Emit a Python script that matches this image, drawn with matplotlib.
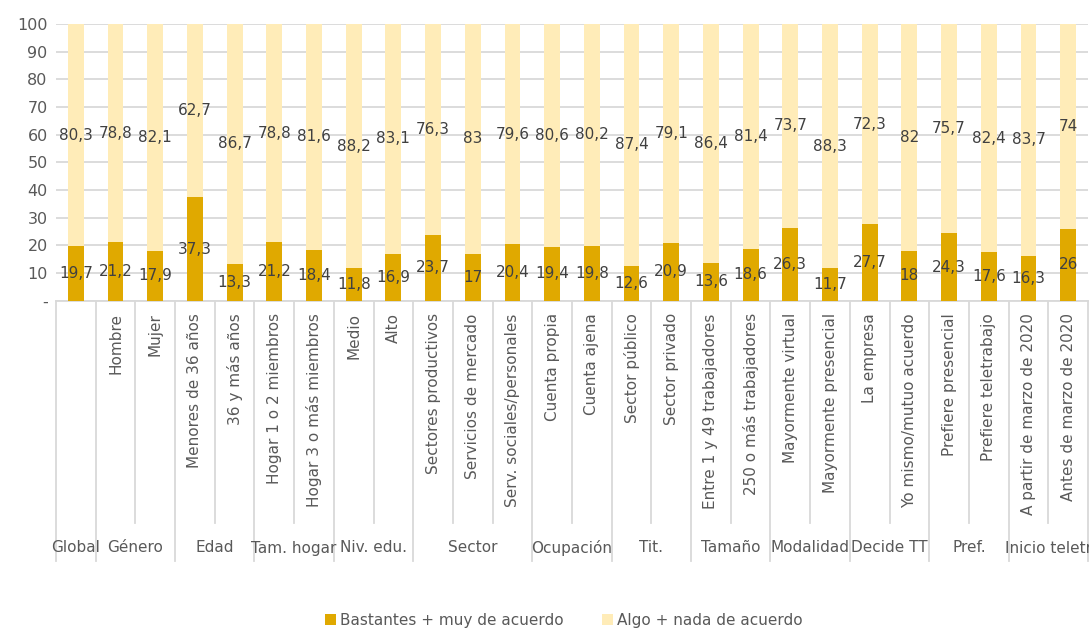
import numpy as np
import matplotlib.pyplot as plt
from matplotlib.transforms import blended_transform_factory

# categorias (nivel 1) y grupos (nivel 2)
categorias = ["", "Hombre", "Mujer", "Menores de 36 años", "36 y más años",
              "Hogar 1 o 2 miembros", "Hogar 3 o más miembros", "Medio", "Alto",
              "Sectores productivos", "Servicios de mercado", "Serv. sociales/personales",
              "Cuenta propia", "Cuenta ajena", "Sector público", "Sector privado",
              "Entre 1 y 49 trabajadores", "250 o más trabajadores",
              "Mayormente virtual", "Mayormente presencial", "La empresa",
              "Yo mismo/mutuo acuerdo", "Prefiere presencial", "Prefiere teletrabajo",
              "A partir de marzo de 2020", "Antes de marzo de 2020"]
grupos = ["Global", "Género", "Edad", "Tam. hogar", "Niv. edu.", "Sector", "Ocupación",
          "Tit.", "Tamaño", "Modalidad", "Decide TT", "Pref.", "Inicio teletrabajo"]
tam_grupos = [1, 2, 2, 2, 2, 3, 2, 2, 2, 2, 2, 2, 2]

bastantes = [19.7, 21.2, 17.9, 37.3, 13.3, 21.2, 18.4, 11.8, 16.9, 23.7, 17, 20.4, 19.4,
             19.8, 12.6, 20.9, 13.6, 18.6, 26.3, 11.7, 27.7, 18, 24.3, 17.6, 16.3, 26]
algo = [80.3, 78.8, 82.1, 62.7, 86.7, 78.8, 81.6, 88.2, 83.1, 76.3, 83, 79.6, 80.6,
        80.2, 87.4, 79.1, 86.4, 81.4, 73.7, 88.3, 72.3, 82, 75.7, 82.4, 83.7, 74]

series = ["Bastantes + muy de acuerdo", "Algo + nada de acuerdo"]

plt.rcParams['font.family'] = ['DejaVu Sans']
GRIS = "#595959"
LINEA = "#d9d9d9"
C_OSCURO = "#E0A900"
C_CLARO = "#FFECB8"

fig = plt.figure(figsize=(10.89, 6.28), dpi=100)
ax = fig.add_axes([56 / 1089, 1 - 300.7 / 628, 1032 / 1089, 276.7 / 628])

x = np.arange(len(categorias))
b1 = ax.bar(x, bastantes, width=0.4, color=C_OSCURO, label=series[0], zorder=3)
b2 = ax.bar(x, algo, width=0.4, bottom=bastantes, color=C_CLARO, label=series[1], zorder=3)

def fmt(v):
    s = f"{v:g}"
    return s.replace(".", ",")

for xi, v1, v2 in zip(x, bastantes, algo):
    ax.text(xi, v1 / 2, fmt(v1), ha="center", va="center", fontsize=11, color="#404040", zorder=4)
    ax.text(xi, v1 + v2 / 2, fmt(v2), ha="center", va="center", fontsize=11, color="#404040", zorder=4)

ax.set_xlim(-0.5, len(categorias) - 0.5)
ax.set_ylim(0, 100)
ax.set_yticks(np.arange(0, 101, 10))
ax.set_yticklabels(["-"] + [str(v) for v in range(10, 101, 10)])
ax.tick_params(axis="y", length=0, pad=6, labelsize=11.5, labelcolor=GRIS)
ax.yaxis.grid(True, color=LINEA, lw=1.3, zorder=0)
for s in ax.spines.values():
    s.set_visible(False)

ax.set_xticks(x)
ax.set_xticklabels(categorias, rotation=90, va="top", ha="center")
ax.tick_params(axis="x", length=0, pad=9, labelsize=11, labelcolor=GRIS)

# eje de categorias multinivel
tr = blended_transform_factory(ax.transData, ax.transAxes)
y_cat = -(523 - 300.7) / 276.7
y_grp = -(561 - 300.7) / 276.7
y_txt = -(548 - 300.7) / 276.7
ax.plot([-0.5, len(categorias) - 0.5], [0, 0], color=LINEA, lw=1.3, transform=tr, clip_on=False)

bordes_grupo = np.cumsum([0] + tam_grupos)
for k in range(len(categorias) + 1):
    fondo = y_grp if k in bordes_grupo else y_cat
    ax.plot([k - 0.5, k - 0.5], [0, fondo], color=LINEA, lw=1.3, transform=tr, clip_on=False)

for g, ini, n in zip(grupos, bordes_grupo[:-1], tam_grupos):
    if g == grupos[-1]:
        # como en el original, la etiqueta se sale del borde derecho
        ax.text(ini - 0.6, y_txt, g, ha="left", va="center", fontsize=11,
                color=GRIS, transform=tr, clip_on=False)
    else:
        ax.text(ini - 0.5 + n / 2, y_txt, g, ha="center", va="center", fontsize=11,
                color=GRIS, transform=tr, clip_on=False)

fig.legend(handles=[b1, b2], labels=series, loc="lower center", bbox_to_anchor=(0.518, -0.022),
           ncol=2, frameon=False, fontsize=11, labelcolor=GRIS, handlelength=0.7,
           handleheight=0.7, handletextpad=0.3, columnspacing=2.5)

fig.savefig("out.png", dpi=100)
